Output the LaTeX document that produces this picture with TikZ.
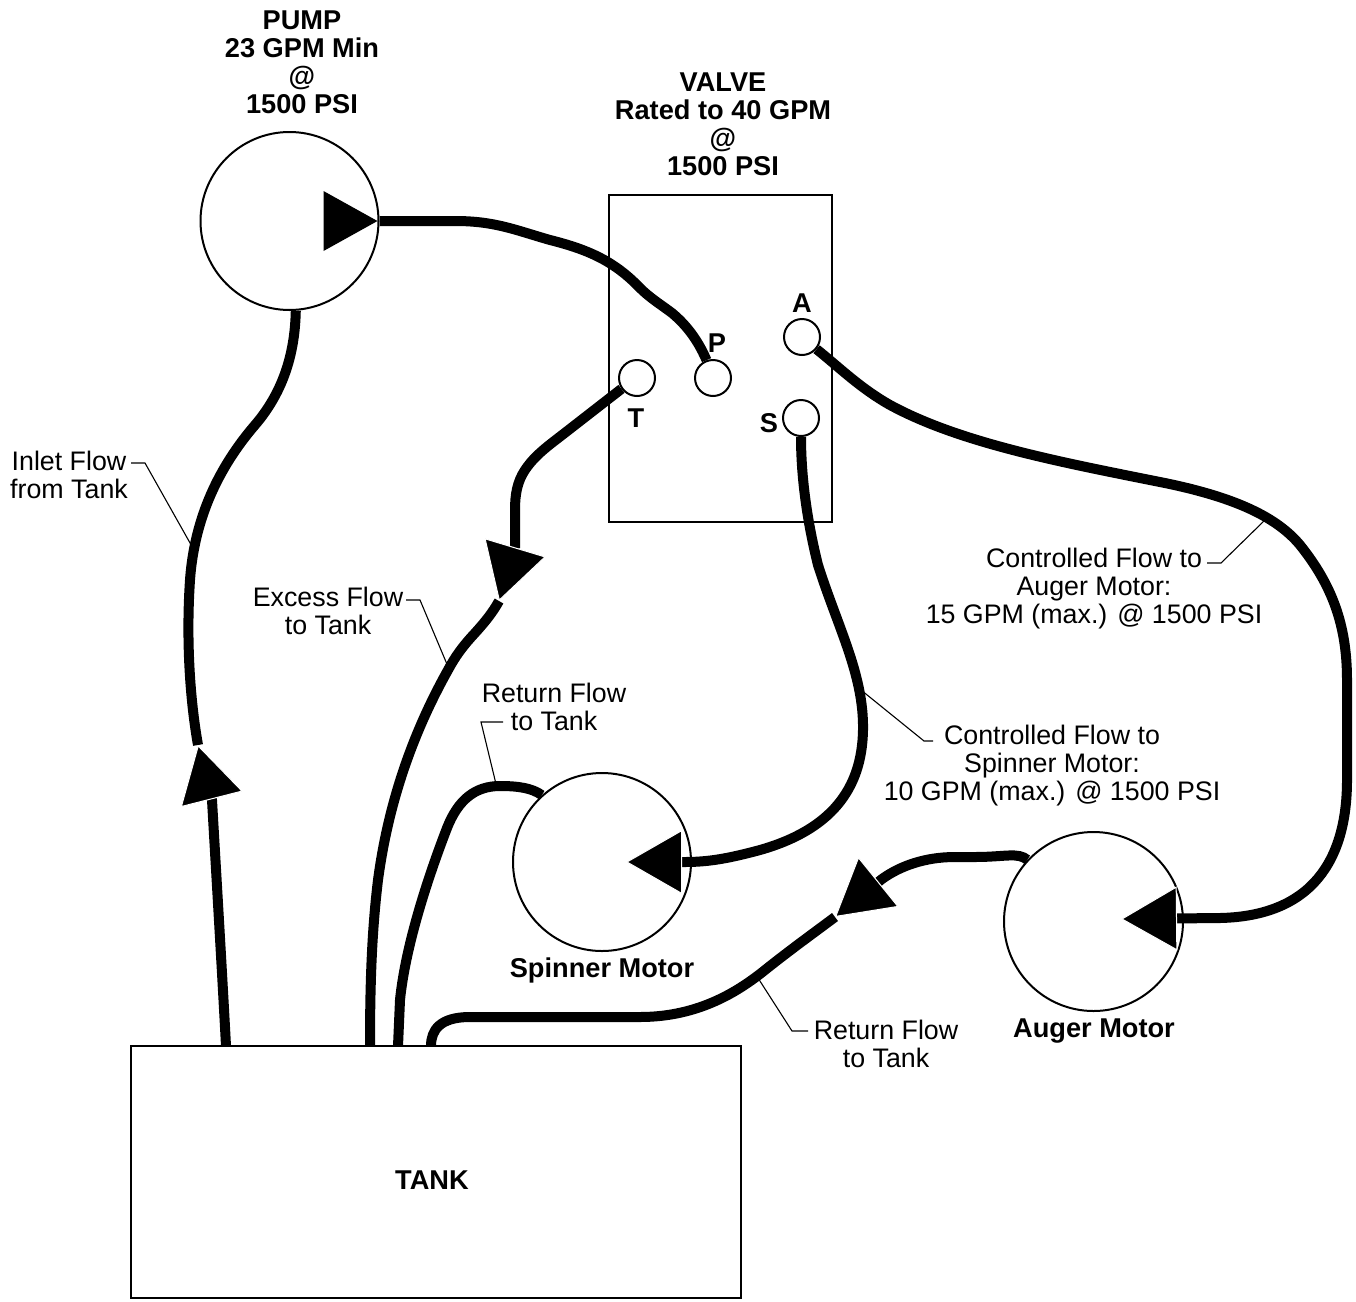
\documentclass[tikz,border=0pt]{standalone}
\usepackage{fontspec}
\setmainfont{Liberation Sans}
\usetikzlibrary{arrows.meta,calc}
\begin{document}
\begin{tikzpicture}[x=1pt,y=-1pt,
  pipe/.style={line width=10pt},
  flowtip/.style={-{Triangle[length=56pt,width=64pt,line width=1pt,color=white,fill=black]}},
  leader/.style={line width=1.1pt},
  motor/.style={circle,draw,line width=2pt,inner sep=0pt},
  port/.style={circle,draw,line width=2pt,minimum size=36pt,inner sep=0pt},
  lab/.style={font=\fontsize{26.8}{28}\selectfont,align=center,inner sep=0pt},
  blab/.style={font=\fontsize{27.2}{28}\selectfont\bfseries,align=center,inner sep=0pt}]
\useasboundingbox (0,0) rectangle (1356,1301);

% components
\node[motor,minimum size=178pt] (pump) at (289.5,221) {};
\node[motor,minimum size=178pt] (spinner) at (602,862) {};
\node[motor,minimum size=179pt] (auger) at (1093.5,921.5) {};
\node[draw,line width=2.5pt,minimum width=223pt,minimum height=327pt,inner sep=0pt] (valve) at (720.5,358.5) {};
\node[draw,line width=2.5pt,minimum width=610pt,minimum height=252pt,inner sep=0pt] (tank) at (436,1172) {};
\node[port] (T) at (637,378) {};
\node[port] (P) at (713,378) {};
\node[port] (A) at (802,337) {};
\node[port] (S) at (801,418) {};

% tank connection points and arrow points
\coordinate (tin) at (226,1046);
\coordinate (tex) at (370,1046);
\coordinate (tsp) at (398,1046);
\coordinate (tau) at (431,1046);
\coordinate (inArr) at (198,745);
\coordinate (exArr) at (499,601);
\coordinate (auArr) at (835,917);
\coordinate (spTip) at (626,862);
\coordinate (auTip) at (1121,919);

% pump symbol arrow
\fill ($(pump.east)+(-2,0)$) -- ++(-54,-30) -- ++(0,60) -- cycle;

% pump -> P
\draw[pipe] (pump.east) -- (455,221) .. controls (495,221) and (515,230) .. (550,240)
  .. controls (590,250) and (615,262) .. (640,288)
  .. controls (650,298) and (660,304) .. (672,313)
  .. controls (690,328) and (700,345) .. (P.110);

% A -> auger motor
\draw[pipe,flowtip] (A.-40) .. controls (840,368) and (860,388) .. (890,405)
  .. controls (960,443) and (1060,462) .. (1160,482)
  .. controls (1230,496) and (1275,515) .. (1300,545)
  .. controls (1332,585) and (1347,625) .. (1347,680) -- (1347,780)
  .. controls (1347,860) and (1312,916) .. (1220,918) -- (auTip);

% S -> spinner motor
\draw[pipe,flowtip] (S.south) .. controls (801,480) and (808,525) .. (818,565)
  .. controls (838,628) and (864,675) .. (863,730)
  .. controls (862,790) and (830,830) .. (760,850)
  .. controls (730,858) and (710,862) .. (685,862) -- (spTip);

% auger return
\draw[pipe] (auArr) .. controls (815,932) and (790,950) .. (765,970)
  .. controls (740,990) and (700,1017) .. (640,1017) -- (470,1017)
  .. controls (440,1017) and (431,1030) .. (tau);
\draw[pipe,flowtip] (auger.137) .. controls (1018,852) and (1005,857) .. (975,857) -- (955,857)
  .. controls (925,857) and (900,866) .. (882,879) -- (auArr);

% spinner return
\draw[pipe] (spinner.132) .. controls (532,788) and (518,786) .. (500,786)
  .. controls (475,786) and (458,800) .. (447,828)
  .. controls (425,885) and (405,950) .. (400,1000) -- (tsp);

% excess flow T -> tank
\draw[pipe] (exArr) .. controls (493,612) and (485,622) .. (475,633)
  .. controls (462,647) and (455,657) .. (448,670)
  .. controls (420,720) and (390,790) .. (378,880)
  .. controls (372,930) and (370,980) .. (tex);
\draw[pipe,flowtip] (T.215) -- (566,432) .. controls (548,446) and (535,455) .. (525,470)
  .. controls (517,482) and (515,495) .. (515,510) -- (515,548) -- (exArr);

% inlet tank -> pump
\draw[pipe] (inArr) .. controls (190,700) and (186,640) .. (190,580)
  .. controls (195,510) and (225,460) .. (255,425)
  .. controls (285,390) and (295,350) .. (pump.-86);
\draw[pipe,flowtip] (tin) .. controls (222,970) and (216,870) .. (212,800) -- (inArr);

% labels
\node[blab] (pumplab) at (302,62) {PUMP\\23 GPM Min\\@\\1500 PSI};
\node[blab] (valvelab) at (723,124) {VALVE\\Rated to 40 GPM\\@\\1500 PSI};
\node[blab] at (717,343) {P};
\node[blab] at (802,303) {A};
\node[blab] at (636,418) {T};
\node[blab] at (769,423) {S};
\node[blab] (spinlab) at (602,970) {Spinner Motor};
\node[blab] (auglab) at (1094,1031) {Auger Motor};
\node[blab] (tanklab) at (432,1180) {TANK};

\node[lab] (inlet) at (69,475) {Inlet Flow\\from Tank};
\draw[leader] (131,463) -- (145,463) -- (194,550);
\node[lab] (excess) at (328,611) {Excess Flow\\to Tank};
\draw[leader] (406,600) -- (420,600) -- (449,669);
\node[lab] (spret) at (554,707) {Return Flow\\to Tank};
\draw[leader] (503,722) -- (481,722) -- (496,784);
\node[lab] (cspin) at (1052,766) {Controlled Flow to\\Spinner Motor:\\10 GPM (max.) @ 1500 PSI};
\draw[leader] (933,741) -- (924,741) -- (861,690);
\node[lab] (caug) at (1094,589) {Controlled Flow to\\Auger Motor:\\15 GPM (max.) @ 1500 PSI};
\draw[leader] (1207,563) -- (1221,563) -- (1266,519);
\node[lab] (auret) at (886,1044) {Return Flow\\to Tank};
\draw[leader] (808,1031) -- (792,1031) -- (758,978);
\end{tikzpicture}
\end{document}
